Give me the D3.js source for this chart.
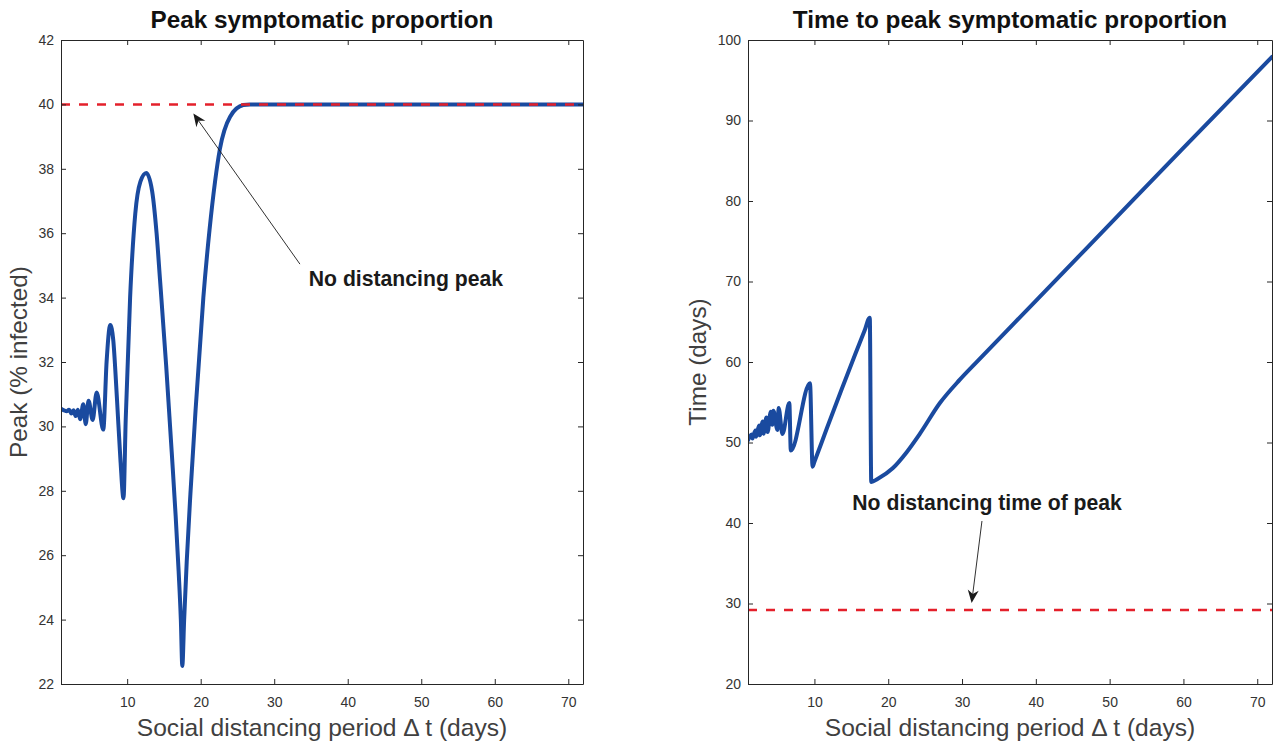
<!DOCTYPE html>
<html>
<head>
<meta charset="utf-8">
<script src="https://cdn.jsdelivr.net/npm/d3@7.9.0/dist/d3.min.js"></script>
<style>
  body { margin: 0; background: #fff; }
  svg { display: block; font-family: "Liberation Sans", Arial, sans-serif; }
</style>
</head>
<body>
<svg id="chart" width="1277" height="744"></svg>
<script>
// --- data ---
const xTicks = [10, 20, 30, 40, 50, 60, 70];
const peakTicks = [22, 24, 26, 28, 30, 32, 34, 36, 38, 40, 42];
const timeTicks = [20, 30, 40, 50, 60, 70, 80, 90, 100];

// peak symptomatic proportion vs distancing period
const peakX = [1.0, 1.4, 1.8, 2.1, 2.4, 2.7, 3.0, 3.3, 3.6, 4.03, 4.36, 4.75, 5.3, 5.85, 6.75,
  7.2, 7.7, 8.1, 8.6, 9.1, 9.5, 9.8, 10.4, 11.1, 11.8, 12.6, 13.4, 14.0, 14.47, 15.3, 16.06,
  16.6, 17.0, 17.3, 17.5, 17.75, 18.1, 18.6, 19.3, 20.36, 21.2, 21.95, 22.6, 24.0, 25.8, 26.7, 30, 40, 50, 60, 72];
const peakY = [30.55, 30.5, 30.47, 30.52, 30.4, 30.5, 30.32, 30.52, 30.22, 30.69, 30.07, 30.8, 30.2, 31.05, 29.9,
  32.0, 33.15, 32.7, 30.9, 28.9, 27.77, 30.2, 34.0, 36.6, 37.6, 37.87, 37.3, 36.0, 34.55, 31.9, 29.2,
  27.2, 25.5, 24.0, 22.56, 24.0, 25.8, 27.9, 30.5, 34.0, 36.1, 37.6, 38.6, 39.62, 39.98, 40.0, 40, 40, 40, 40, 40];

// time to peak vs distancing period
const timeX = [1.0, 1.5, 1.6, 2.0, 2.1, 2.5, 2.6, 3.0, 3.1, 3.5, 3.65, 4.09, 4.3, 4.44, 4.99, 5.15, 5.67,
  6.6, 6.8, 9.4, 9.75, 10.0, 11.7, 13.6, 15.5, 16.8, 17.5, 17.7, 18.6, 20.6, 22.5, 24.3, 27.0, 29.7, 32.2, 40, 50, 60, 72];
const timeY = [50.3, 51.0, 50.5, 51.5, 50.7, 52.1, 50.9, 52.6, 51.1, 53.1, 51.3, 53.83, 52.2, 53.95, 51.55, 54.3, 51.06,
  54.9, 49.0, 57.35, 47.0, 47.6, 51.8, 56.4, 60.9, 63.9, 65.5, 45.1, 45.5, 46.8, 48.8, 51.1, 54.9, 57.8, 60.2, 67.6, 77.1, 86.6, 97.9];

const noDistPeak = 40;
const noDistTime = 29.2;

const svg = d3.select('#chart');
const blue = '#1a4a9f';
const red = '#e4202b';
const axisColor = '#262626';

function drawPanel(p) {
  const x = d3.scaleLinear().domain([1, 72]).range([p.left, p.right]);
  const y = d3.scaleLinear().domain(p.yDomain).range([p.bottom, p.top]);
  const g = svg.append('g');

  g.append('clipPath').attr('id', p.id + '-clip')
    .append('rect').attr('x', p.left).attr('y', p.top)
    .attr('width', p.right - p.left).attr('height', p.bottom - p.top);

  const plot = g.append('g').attr('clip-path', `url(#${p.id}-clip)`);
  const line = d3.line().x((d, i) => x(p.xs[i])).y(d => y(d)).curve(d3.curveMonotoneX);

  plot.append('path')
    .attr('d', line(p.ys))
    .attr('fill', 'none').attr('stroke', blue).attr('stroke-width', 4)
    .attr('stroke-linejoin', 'round').attr('stroke-linecap', 'round');

  plot.append('line')
    .attr('x1', x(1)).attr('x2', x(72)).attr('y1', y(p.ref)).attr('y2', y(p.ref))
    .attr('stroke', red).attr('stroke-width', 2.5).attr('stroke-dasharray', '9,9');

  // axes with inward ticks on all four sides
  const fmt = d3.format('d');
  const styleAxis = sel => {
    sel.selectAll('path, line').attr('stroke', axisColor).attr('stroke-width', 1);
    sel.selectAll('text').attr('fill', '#333').attr('font-size', 14)
      .attr('font-family', '"Liberation Sans", Arial, sans-serif');
  };
  g.append('g').attr('transform', `translate(0,${p.bottom})`)
    .call(d3.axisBottom(x).tickValues(xTicks).tickFormat(fmt).tickSize(-5).tickSizeOuter(0).tickPadding(13))
    .call(styleAxis);
  g.append('g').attr('transform', `translate(0,${p.top})`)
    .call(d3.axisTop(x).tickValues(xTicks).tickFormat('').tickSize(-5).tickSizeOuter(0))
    .call(styleAxis);
  g.append('g').attr('transform', `translate(${p.left},0)`)
    .call(d3.axisLeft(y).tickValues(p.yTicks).tickFormat(fmt).tickSize(-5).tickSizeOuter(0).tickPadding(7))
    .call(styleAxis);
  g.append('g').attr('transform', `translate(${p.right},0)`)
    .call(d3.axisRight(y).tickValues(p.yTicks).tickFormat('').tickSize(-5).tickSizeOuter(0))
    .call(styleAxis);

  const cx = (p.left + p.right) / 2;
  g.append('text').attr('x', cx).attr('y', 28).attr('text-anchor', 'middle')
    .attr('font-size', 24.3).attr('font-weight', 'bold').attr('fill', '#111').text(p.title);
  g.append('text').attr('x', cx).attr('y', 736).attr('text-anchor', 'middle')
    .attr('font-size', 24.6).attr('fill', '#404040').text('Social distancing period \u0394 t (days)');
  g.append('text').attr('transform', `translate(${p.left - p.yLabelOff},${(p.top + p.bottom) / 2}) rotate(-90)`)
    .attr('text-anchor', 'middle').attr('font-size', 24.3).attr('fill', '#404040').text(p.yLabel);

  // annotation arrow
  const a = p.note;
  const x1 = x(a.tail[0]), y1 = y(a.tail[1]), x2 = x(a.tip[0]), y2 = y(a.tip[1]);
  const ang = Math.atan2(y2 - y1, x2 - x1);
  const L = 13, W = 5.5, N = 9;
  const ux = Math.cos(ang), uy = Math.sin(ang);
  const base = [x2 - ux * L, y2 - uy * L];
  const notch = [x2 - ux * N, y2 - uy * N];
  g.append('line').attr('x1', x1).attr('y1', y1).attr('x2', notch[0]).attr('y2', notch[1])
    .attr('stroke', '#1a1a1a').attr('stroke-width', 0.9);
  g.append('path')
    .attr('d', `M${x2},${y2}L${base[0] - uy * W},${base[1] + ux * W}L${notch[0]},${notch[1]}L${base[0] + uy * W},${base[1] - ux * W}Z`)
    .attr('fill', '#1a1a1a');
  g.append('text').attr('x', x(a.text[0])).attr('y', y(a.text[1]))
    .attr('text-anchor', a.anchor).attr('font-size', 21.2).attr('font-weight', 'bold')
    .attr('fill', '#1a1a1a').text(a.label);
}

drawPanel({
  id: 'peak', left: 61, right: 583, top: 40, bottom: 684,
  yDomain: [22, 42], yTicks: peakTicks, xs: peakX, ys: peakY, ref: noDistPeak,
  title: 'Peak symptomatic proportion', yLabel: 'Peak (% infected)', yLabelOff: 34,
  note: { tail: [33.5, 35.04], tip: [19.0, 39.72], text: [34.7, 34.36], anchor: 'start', label: 'No distancing peak' }
});

drawPanel({
  id: 'time', left: 748, right: 1272, top: 40, bottom: 684,
  yDomain: [20, 100], yTicks: timeTicks, xs: timeX, ys: timeY, ref: noDistTime,
  title: 'Time to peak symptomatic proportion', yLabel: 'Time (days)', yLabelOff: 42,
  note: { tail: [32.7, 40.25], tip: [31.3, 30.06], text: [33.4, 41.6], anchor: 'middle', label: 'No distancing time of peak' }
});
</script>
</body>
</html>
